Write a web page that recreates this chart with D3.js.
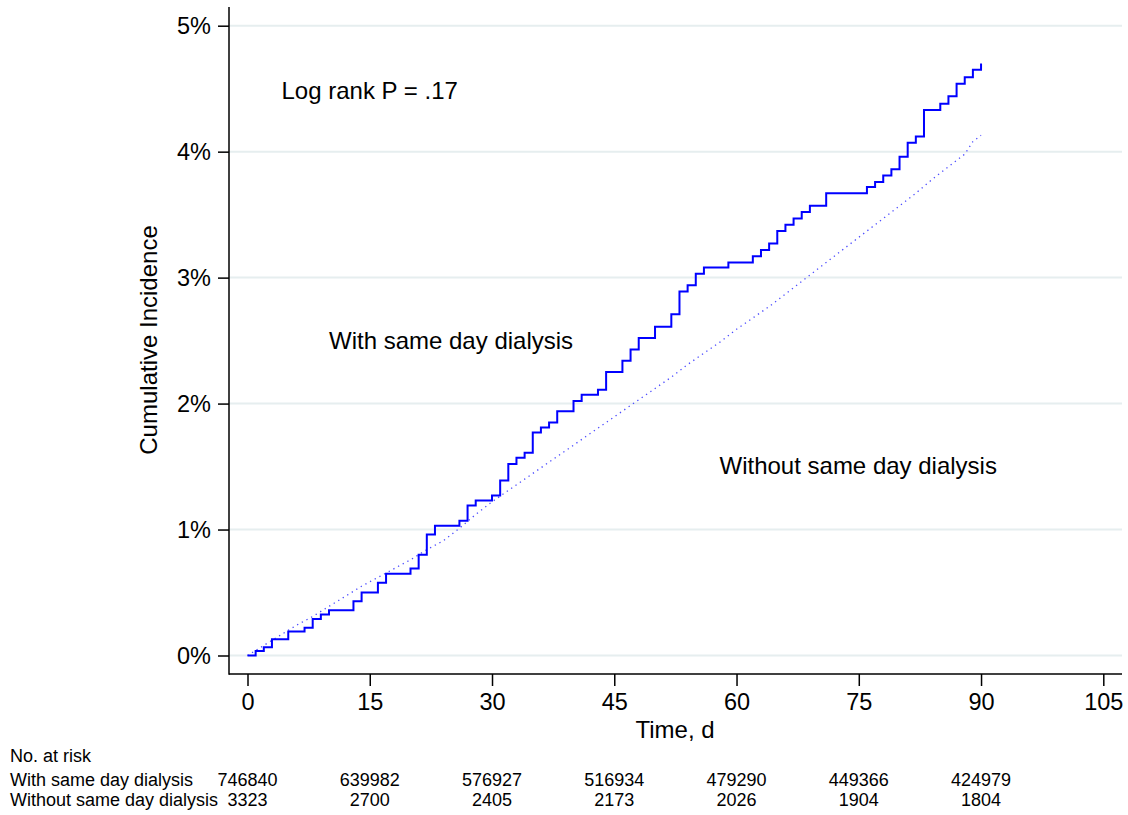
<!DOCTYPE html>
<html>
<head>
<meta charset="utf-8">
<script src="https://cdn.jsdelivr.net/npm/d3@7"></script>
<style>
  body { margin: 0; background: #fff; }
  svg { font-family: "Liberation Sans", Arial, sans-serif; }
</style>
</head>
<body>
<div id="chart"></div>
<script>
// cumulative incidence (%) - with same day dialysis (step points: day, value)
const withDays = [0, 1, 2, 3, 5, 7, 8, 9, 10, 13, 14, 16, 17, 20, 21, 22, 23, 26, 27, 28, 30, 31, 32, 33, 34, 35, 36, 37, 38, 40, 41, 43, 44, 46, 47, 48, 50, 52, 53, 54, 55, 56, 59, 62, 63, 64, 65, 66, 67, 68, 69, 71, 76, 77, 78, 79, 80, 81, 82, 83, 85, 86, 87, 88, 89, 90];
const withVals = [0, 0.035, 0.066, 0.13, 0.19, 0.22, 0.29, 0.325, 0.36, 0.43, 0.50, 0.577, 0.65, 0.69, 0.80, 0.96, 1.03, 1.07, 1.19, 1.23, 1.27, 1.39, 1.52, 1.57, 1.61, 1.77, 1.81, 1.85, 1.94, 2.02, 2.07, 2.11, 2.25, 2.34, 2.43, 2.52, 2.61, 2.71, 2.89, 2.94, 3.03, 3.08, 3.12, 3.17, 3.22, 3.27, 3.37, 3.42, 3.47, 3.52, 3.57, 3.67, 3.72, 3.76, 3.81, 3.86, 3.96, 4.07, 4.12, 4.33, 4.38, 4.44, 4.54, 4.59, 4.65, 4.70];

// without same day dialysis
const withoutDays = [0, 2, 4, 6, 8, 10, 12, 14, 16, 18, 20, 22, 24, 26, 28, 30, 32, 34, 36, 38, 40, 42, 44, 46, 48, 50, 52, 54, 56, 58, 60, 62, 64, 66, 68, 70, 72, 74, 76, 78, 80, 82, 84, 86, 88, 89, 90];
const withoutVals = [0, 0.08, 0.16, 0.24, 0.31, 0.39, 0.47, 0.55, 0.62, 0.69, 0.76, 0.84, 0.91, 1.01, 1.12, 1.22, 1.31, 1.40, 1.49, 1.58, 1.67, 1.76, 1.85, 1.94, 2.03, 2.12, 2.21, 2.31, 2.40, 2.49, 2.59, 2.68, 2.77, 2.87, 2.97, 3.07, 3.17, 3.27, 3.37, 3.47, 3.57, 3.67, 3.78, 3.88, 3.98, 4.08, 4.13];

const xTicks = [0, 15, 30, 45, 60, 75, 90, 105];
const yTicks = [0, 1, 2, 3, 4, 5];

const riskDays = [0, 15, 30, 45, 60, 75, 90];
const riskWith = [746840, 639982, 576927, 516934, 479290, 449366, 424979];
const riskWithout = [3323, 2700, 2405, 2173, 2026, 1904, 1804];

const W = 1128, H = 815;
const svg = d3.select('#chart').append('svg').attr('width', W).attr('height', H);

const x = d3.scaleLinear().domain([0, 105]).range([247.5, 1103.3]);
const y = d3.scaleLinear().domain([0, 5]).range([655.5, 25.7]);
const axL = 229, axR = 1122, axB = 674, axT = 7;

// gridlines
svg.append('g').selectAll('line').data(yTicks).join('line')
  .attr('x1', axL).attr('x2', axR)
  .attr('y1', d => y(d)).attr('y2', d => y(d))
  .attr('stroke', '#e6eeef').attr('stroke-width', 2);

// axes
const yAxis = svg.append('g').attr('transform', `translate(${axL},0)`)
  .call(d3.axisLeft(y).tickValues(yTicks).tickFormat(d => d + '%').tickSize(11).tickPadding(7));
const xAxis = svg.append('g').attr('transform', `translate(0,${axB})`)
  .call(d3.axisBottom(x).tickValues(xTicks).tickSize(12).tickPadding(7));
[yAxis, xAxis].forEach(g => {
  g.select('.domain').remove();
  g.selectAll('.tick line').attr('stroke', '#000').attr('stroke-width', 1.5);
  g.selectAll('.tick text').attr('font-size', 23.5).attr('fill', '#000')
    .attr('font-family', '"Liberation Sans", Arial, sans-serif');
});
svg.append('line').attr('x1', axL).attr('x2', axL).attr('y1', axT).attr('y2', axB + 0.7)
  .attr('stroke', '#000').attr('stroke-width', 1.5);
svg.append('line').attr('x1', axL).attr('x2', axR).attr('y1', axB).attr('y2', axB)
  .attr('stroke', '#000').attr('stroke-width', 1.5);

// curves
const stepLine = d3.line().curve(d3.curveStepAfter).x(d => x(d[0])).y(d => y(d[1]));
const plainLine = d3.line().x(d => x(d[0])).y(d => y(d[1]));
svg.append('path').datum(d3.zip(withoutDays, withoutVals))
  .attr('d', plainLine).attr('fill', 'none')
  .attr('stroke', '#4a4aff').attr('stroke-width', 1.3).attr('stroke-dasharray', '1.3 4');
svg.append('path').datum(d3.zip(withDays, withVals))
  .attr('d', stepLine).attr('fill', 'none')
  .attr('stroke', '#0000ff').attr('stroke-width', 2);

// annotations
const t = (txt, px, py, size, extra) => {
  const s = svg.append('text').attr('x', px).attr('y', py).attr('font-size', size).attr('fill', '#000').text(txt);
  if (extra) extra(s);
  return s;
};
t('Log rank P = .17', 281.5, 98.5, 24);
t('With same day dialysis', 329, 348.5, 24);
t('Without same day dialysis', 719.5, 474, 24);
t('Time, d', 675, 738, 24, s => s.attr('text-anchor', 'middle'));
t('Cumulative Incidence', 0, 0, 24, s => s.attr('text-anchor', 'middle')
  .attr('transform', 'translate(157,340) rotate(-90)'));

// risk table
t('No. at risk', 10, 762, 18);
t('With same day dialysis', 10, 786, 18);
t('Without same day dialysis', 10, 806, 18);
svg.append('g').selectAll('text').data(d3.zip(riskDays, riskWith)).join('text')
  .attr('x', d => x(d[0])).attr('y', 786).attr('text-anchor', 'middle')
  .attr('font-size', 18).text(d => d[1]);
svg.append('g').selectAll('text').data(d3.zip(riskDays, riskWithout)).join('text')
  .attr('x', d => x(d[0])).attr('y', 806).attr('text-anchor', 'middle')
  .attr('font-size', 18).text(d => d[1]);
</script>
</body>
</html>
